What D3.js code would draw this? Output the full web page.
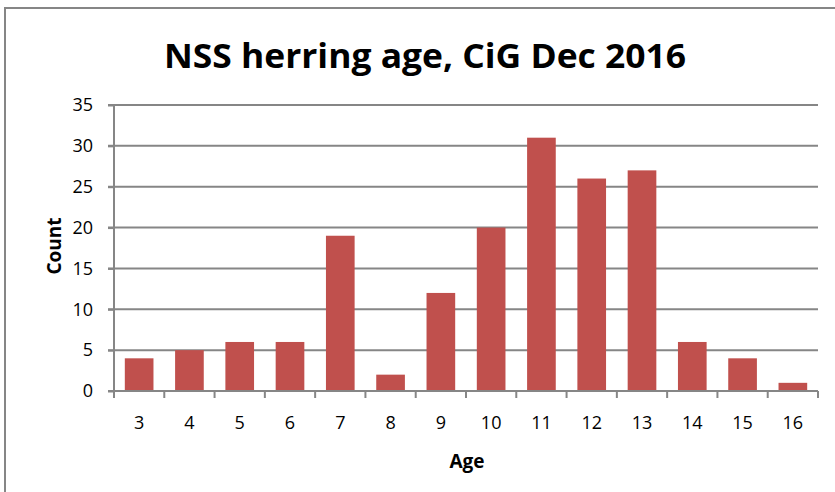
<!DOCTYPE html>
<html>
<head>
<meta charset="utf-8">
<script src="https://cdn.jsdelivr.net/npm/d3@7"></script>
<style>
  body { margin: 0; background: #fff; }
  svg text { font-family: "Open Sans", "DejaVu Sans", sans-serif; fill: #000; }
</style>
</head>
<body>
<div id="chart"></div>
<script>
// Chart data
const ages = ["3", "4", "5", "6", "7", "8", "9", "10", "11", "12", "13", "14", "15", "16"];
const counts = [4, 5, 6, 6, 19, 2, 12, 20, 31, 26, 27, 6, 4, 1];
const yTicks = [0, 5, 10, 15, 20, 25, 30, 35];

const W = 835, H = 492;
const margin = { top: 105, right: 17, bottom: 101, left: 114 };

const svg = d3.select("#chart").append("svg")
    .attr("width", W)
    .attr("height", H);

// outer chart frame (extends past the picture on right/bottom)
svg.append("rect")
    .attr("x", 5).attr("y", 8)
    .attr("width", W + 20).attr("height", H + 20)
    .attr("fill", "none")
    .attr("stroke", "#868686")
    .attr("stroke-width", 2);

const x = d3.scaleBand()
    .domain(ages)
    .range([margin.left, W - margin.right])
    .paddingInner(0.43)
    .paddingOuter(0.215);

const xOuter = d3.scaleBand()
    .domain(ages)
    .range([margin.left, W - margin.right]);

const y = d3.scaleLinear()
    .domain([0, 35])
    .range([H - margin.bottom, margin.top]);

// gridlines
svg.append("g")
  .selectAll("line")
  .data(yTicks.filter(d => d > 0))
  .enter().append("line")
    .attr("x1", margin.left - 6)
    .attr("x2", W - margin.right)
    .attr("y1", d => y(d))
    .attr("y2", d => y(d))
    .attr("stroke", "#868686")
    .attr("stroke-width", 2);

// bars
svg.append("g")
  .selectAll("rect")
  .data(counts)
  .enter().append("rect")
    .attr("x", (d, i) => x(ages[i]))
    .attr("width", x.bandwidth())
    .attr("y", d => y(d))
    .attr("height", d => y(0) - y(d))
    .attr("fill", "#C0504D");

// y axis
const yAxis = svg.append("g")
    .attr("transform", `translate(${margin.left},0)`)
    .call(d3.axisLeft(y).tickValues(yTicks).tickSize(6).tickPadding(15));
yAxis.selectAll("line, path").attr("stroke", "#868686").attr("stroke-width", 2);
yAxis.select(".domain").attr("d", `M0,${y(35)}V${y(0)}`);
yAxis.selectAll("text").style("font-size", "18px").style("font-family", "Open Sans, sans-serif");

// x axis: ticks at category boundaries
const boundaries = ages.map(a => xOuter(a)).concat([W - margin.right]);
const xAxisG = svg.append("g");
xAxisG.append("line")
    .attr("x1", margin.left - 6).attr("x2", W - margin.right)
    .attr("y1", y(0)).attr("y2", y(0))
    .attr("stroke", "#868686").attr("stroke-width", 2);
xAxisG.selectAll("line.tick")
  .data(boundaries)
  .enter().append("line")
    .attr("class", "tick")
    .attr("x1", d => d).attr("x2", d => d)
    .attr("y1", y(0)).attr("y2", y(0) + 7)
    .attr("stroke", "#868686").attr("stroke-width", 2);
xAxisG.selectAll("text")
  .data(ages)
  .enter().append("text")
    .attr("x", d => xOuter(d) + xOuter.bandwidth() / 2)
    .attr("y", 429)
    .attr("text-anchor", "middle")
    .style("font-size", "18px")
    .text(d => d);

// title
svg.append("text")
    .attr("x", 425)
    .attr("y", 68)
    .attr("text-anchor", "middle")
    .attr("textLength", 522)
    .attr("lengthAdjust", "spacingAndGlyphs")
    .style("font-size", "34px")
    .style("font-weight", "bold")
    .text("NSS herring age, CiG Dec 2016");

// axis titles
svg.append("text")
    .attr("x", 467)
    .attr("y", 468)
    .attr("text-anchor", "middle")
    .style("font-size", "19px")
    .style("font-weight", "bold")
    .text("Age");

svg.append("text")
    .attr("transform", "translate(61,246) rotate(-90)")
    .attr("text-anchor", "middle")
    .style("font-size", "19px")
    .style("font-weight", "bold")
    .text("Count");
</script>
</body>
</html>
